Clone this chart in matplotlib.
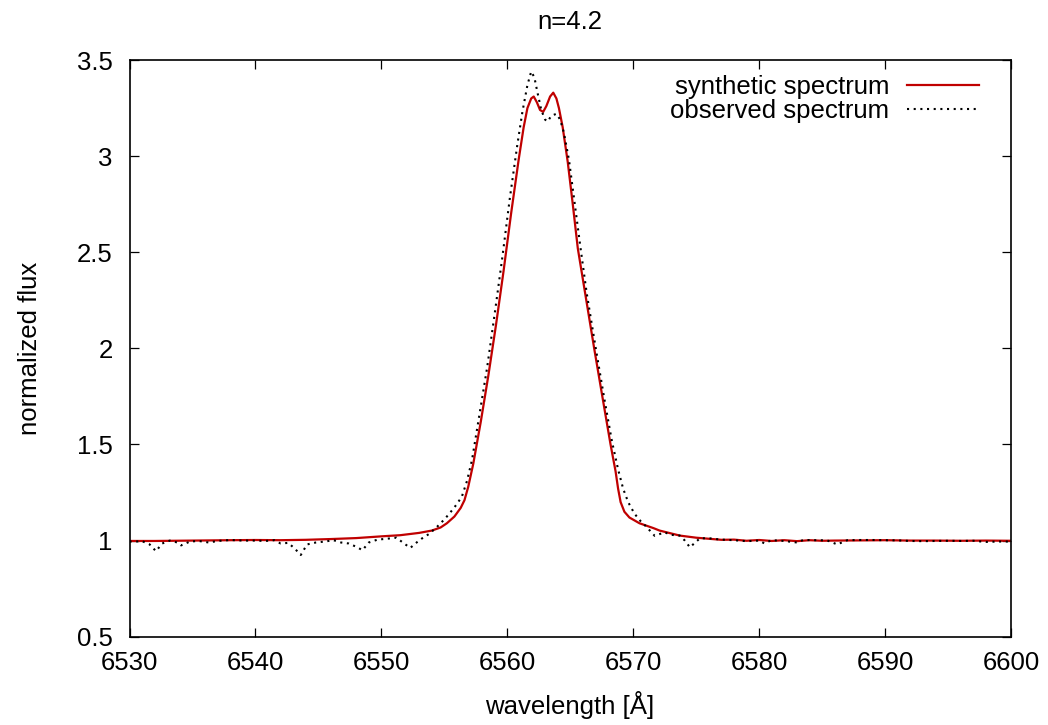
import matplotlib
matplotlib.use("Agg")
import matplotlib.pyplot as plt

plt.rcParams['font.family'] = ['Liberation Sans', 'DejaVu Sans']

title = "n=4.2"
xlabel = "wavelength [Å]"
ylabel = "normalized flux"
xticks = [6530, 6540, 6550, 6560, 6570, 6580, 6590, 6600]
yticks = [0.5, 1, 1.5, 2, 2.5, 3, 3.5]
ytick_labels = ["0.5", "1", "1.5", "2", "2.5", "3", "3.5"]

synth_wl = [6530, 6532, 6535, 6538, 6540, 6542, 6544, 6546, 6548, 6550, 6551.5,
            6553, 6554, 6554.7, 6555.2, 6555.8, 6556.3, 6556.6, 6556.9, 6557.3,
            6557.9, 6558.5, 6559.1, 6559.7, 6560.3, 6560.9, 6561.3, 6561.6, 6561.9,
            6562.1, 6562.35, 6562.6, 6562.85, 6563.1, 6563.4, 6563.65, 6563.9,
            6564.1, 6564.4, 6564.8, 6565.2, 6565.6, 6566.2, 6566.9, 6567.6,
            6568.2, 6568.6, 6568.8, 6569.0, 6569.3, 6569.7, 6570.5, 6571.6,
            6572.1, 6573.7, 6575, 6577, 6578, 6579, 6580, 6581, 6582, 6583, 6584,
            6585, 6586, 6588, 6590, 6592, 6594, 6596, 6598, 6600]
synth_flux = [0.998, 0.998, 1.000, 1.002, 1.003, 1.002, 1.004, 1.008, 1.013, 1.022, 1.028,
              1.040, 1.052, 1.068, 1.09, 1.125, 1.17, 1.21, 1.28, 1.40,
              1.62, 1.86, 2.12, 2.40, 2.70, 2.98, 3.15, 3.25, 3.30,
              3.31, 3.28, 3.24, 3.23, 3.26, 3.31, 3.33, 3.30,
              3.25, 3.15, 2.97, 2.75, 2.52, 2.28, 2.00, 1.73,
              1.50, 1.36, 1.27, 1.20, 1.15, 1.12, 1.09, 1.065,
              1.052, 1.026, 1.015, 1.004, 1.005, 0.999, 1.003, 0.998, 1.002, 0.997, 1.002,
              0.999, 1.000, 1.001, 1.002, 1.000, 1.000, 0.999, 1.000, 0.999]

obs_wl = [6530, 6530.5, 6531, 6531.6, 6532.1, 6532.6, 6533.2, 6533.8, 6534.1, 6534.8,
          6535.5, 6536.3, 6537, 6538, 6539, 6540, 6540.8, 6541.5, 6542.0, 6542.6,
          6543.1, 6543.6, 6544.1, 6544.8, 6545.5, 6546.2, 6546.8, 6547.4, 6548.0,
          6548.5, 6549.0, 6549.7, 6550.5, 6551.2, 6551.8, 6552.3, 6552.8, 6553.2,
          6553.8, 6554.4, 6555.0, 6555.4, 6556.0, 6556.4, 6556.8, 6557.2, 6557.8,
          6558.4, 6559.0, 6559.6, 6560.2, 6560.8, 6561.2, 6561.6, 6561.9, 6562.15,
          6562.4, 6562.7, 6563.0, 6563.2, 6563.5, 6563.9, 6564.2, 6564.5, 6564.9,
          6565.3, 6565.8, 6566.3, 6567.0, 6567.7, 6568.3, 6568.8, 6569.2, 6569.6,
          6570.1, 6570.6, 6571.0, 6571.7, 6572.5, 6573.0, 6573.7, 6574.1,
          6574.5, 6575.3, 6576, 6577, 6578, 6579, 6580, 6580.4, 6581, 6582, 6583,
          6583.5, 6584.5, 6585.4, 6586.2, 6587, 6588, 6589, 6590, 6591, 6592, 6593,
          6594, 6595, 6596, 6597, 6598, 6599, 6600]
obs_flux = [0.995, 0.995, 0.997, 0.98, 0.945, 0.985, 1.00, 0.99, 0.975, 0.995,
            0.998, 0.99, 0.998, 1.003, 1.000, 1.000, 0.998, 1.002, 0.985, 0.988,
            0.96, 0.925, 0.98, 0.99, 0.995, 1.002, 0.99, 0.985, 0.968,
            0.95, 0.99, 1.005, 1.01, 1.015, 0.985, 0.962, 0.99, 1.01,
            1.035, 1.07, 1.11, 1.14, 1.19, 1.23, 1.31, 1.42, 1.66,
            1.90, 2.18, 2.47, 2.78, 3.06, 3.23, 3.37, 3.44, 3.41,
            3.33, 3.24, 3.19, 3.18, 3.21, 3.22, 3.19, 3.12, 2.98,
            2.78, 2.53, 2.29, 2.01, 1.74, 1.52, 1.37, 1.27, 1.20,
            1.14, 1.10, 1.075, 1.025, 1.043, 1.03, 1.026, 1.00,
            0.965, 1.012, 1.012, 1.005, 1.002, 0.997, 1.000, 0.986, 1.002, 0.998, 0.99,
            1.003, 1.002, 1.001, 0.98, 1.002, 1.003, 1.003, 1.002, 1.001, 0.998, 0.997,
            0.998, 0.999, 0.998, 0.999, 0.993, 0.995, 0.995]

W, H = 1048, 725
fig = plt.figure(figsize=(W / 100, H / 100), dpi=100)
ax = fig.add_axes([129.5 / W, 1 - 636.7 / H, (1011 - 129.5) / W, (636.7 - 60) / H])

l1, = ax.plot(synth_wl, synth_flux, color='#c00000', lw=1.6, label='synthetic spectrum',
              solid_joinstyle='round')
l2, = ax.plot(obs_wl, obs_flux, color='black', lw=1.5, linestyle=(0, (1, 2.2)),
              label='observed spectrum', dash_capstyle='butt')

ax.set_xlim(6530, 6600)
ax.set_ylim(0.5, 3.5)
ax.set_xticks(xticks)
ax.set_xticklabels([str(t) for t in xticks])
ax.set_yticks(yticks)
ax.set_yticklabels(ytick_labels)

fs = 18.5
ax.tick_params(direction='in', length=6.5, width=0.9, top=True, right=True,
               labelsize=fs, colors='black')
ax.tick_params(axis='x', pad=10)
ax.tick_params(axis='y', pad=12)
for s in ax.spines.values():
    s.set_linewidth(1.2)

fig.text(570 / W, 1 - 22 / H, title, ha='center', va='center', fontsize=fs)
fig.text(570 / W, 1 - 705 / H, xlabel, ha='center', va='center', fontsize=fs)
fig.text(30 / W, 1 - 348 / H, ylabel, ha='center', va='center', fontsize=fs, rotation=90)

ax.legend(handles=[l1, l2], loc='upper right', bbox_to_anchor=(979 / W, 1 - 75 / H),
          bbox_transform=fig.transFigure, frameon=False, markerfirst=False,
          fontsize=fs, handlelength=2.8, handletextpad=0.7, labelspacing=0.0,
          borderpad=0, borderaxespad=0)

fig.savefig('out.png', dpi=100)
